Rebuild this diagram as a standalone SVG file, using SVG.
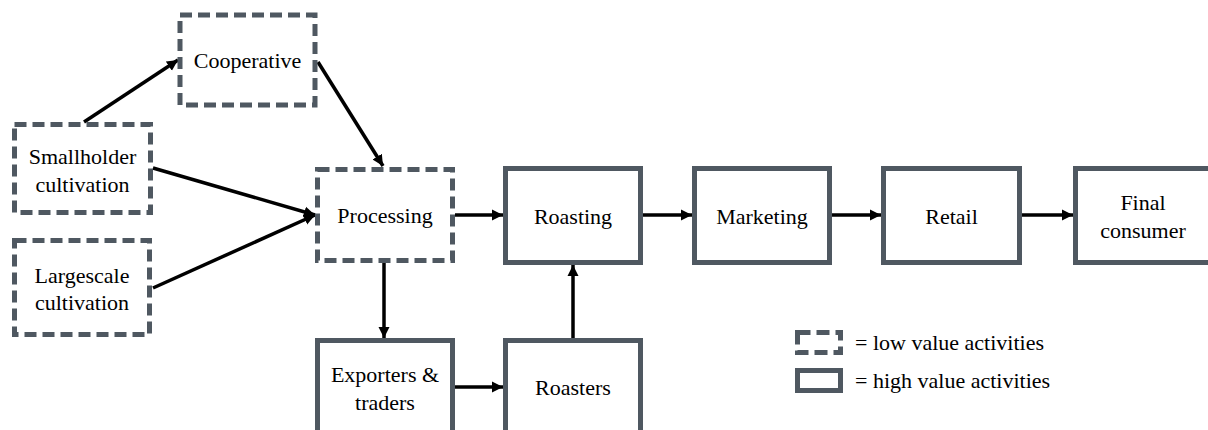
<svg xmlns="http://www.w3.org/2000/svg" width="1208" height="430" viewBox="0 0 1208 430">
<defs>
<marker id="ah" markerUnits="userSpaceOnUse" markerWidth="12" markerHeight="12" refX="11" refY="6" orient="auto">
<path d="M0,0.5 L11,6 L0,11.5 z" fill="#000"/>
</marker>
<style>
.low{fill:#fff;stroke:#4f5861;stroke-width:5;stroke-dasharray:12 6}
.high{fill:#fff;stroke:#4f5861;stroke-width:5}
.c{stroke:#000;stroke-width:3.5;fill:none;marker-end:url(#ah)}
</style>
</defs>
<rect width="1208" height="430" fill="#fff"/>
<g id="connectors">
<line class="c" x1="84" y1="122" x2="178" y2="60"/>
<line class="c" x1="318" y1="62" x2="383" y2="166"/>
<line class="c" x1="153" y1="168" x2="315" y2="215"/>
<line class="c" x1="153" y1="288" x2="315" y2="215"/>
<line class="c" x1="455" y1="215" x2="503" y2="215"/>
<line class="c" x1="643" y1="215" x2="692" y2="215"/>
<line class="c" x1="832" y1="215" x2="881" y2="215"/>
<line class="c" x1="1022" y1="215" x2="1073" y2="215"/>
<line class="c" x1="384" y1="263" x2="384" y2="338"/>
<line class="c" x1="455" y1="387" x2="503" y2="387"/>
<line class="c" x1="573" y1="338" x2="573" y2="265"/>
</g>
<g font-family="Liberation Serif, DejaVu Serif, serif" font-size="22" fill="#000">
<g id="cooperative"><rect class="low" x="180" y="15" width="135" height="90"/><text text-anchor="middle" x="247.5" y="68">Cooperative</text></g>
<g id="smallholder"><rect class="low" x="14.5" y="124.5" width="136" height="88"/><text text-anchor="middle" x="82.5" y="164">Smallholder</text><text text-anchor="middle" x="82.5" y="192">cultivation</text></g>
<g id="largescale"><rect class="low" x="14.5" y="240.5" width="135" height="94"/><text text-anchor="middle" x="82" y="283">Largescale</text><text text-anchor="middle" x="82" y="310">cultivation</text></g>
<g id="processing"><rect class="low" x="317.5" y="169.5" width="135" height="91"/><text text-anchor="middle" x="385" y="223">Processing</text></g>
<g id="roasting"><rect class="high" x="505.5" y="168.5" width="135" height="94"/><text text-anchor="middle" x="573" y="224">Roasting</text></g>
<g id="marketing"><rect class="high" x="694.5" y="168.5" width="135" height="94"/><text text-anchor="middle" x="762" y="224">Marketing</text></g>
<g id="retail"><rect class="high" x="883.5" y="168.5" width="136" height="94"/><text text-anchor="middle" x="951.5" y="224">Retail</text></g>
<g id="final-consumer"><rect class="high" x="1075.5" y="168.5" width="135" height="94"/><text text-anchor="middle" x="1143" y="210">Final</text><text text-anchor="middle" x="1143" y="238">consumer</text></g>
<g id="exporters"><rect class="high" x="317.5" y="340.5" width="135" height="100"/><text text-anchor="middle" x="385" y="382">Exporters &amp;</text><text text-anchor="middle" x="385" y="410">traders</text></g>
<g id="roasters"><rect class="high" x="505.5" y="340.5" width="135" height="100"/><text text-anchor="middle" x="573" y="395">Roasters</text></g>
<g id="legend">
<rect class="low" x="797.5" y="332.5" width="43" height="20" style="stroke-dasharray:13 6"/>
<text x="855" y="350">= low value activities</text>
<rect class="high" x="797.5" y="370.5" width="43" height="20"/>
<text x="855" y="388">= high value activities</text>
</g>
</g>
</svg>
